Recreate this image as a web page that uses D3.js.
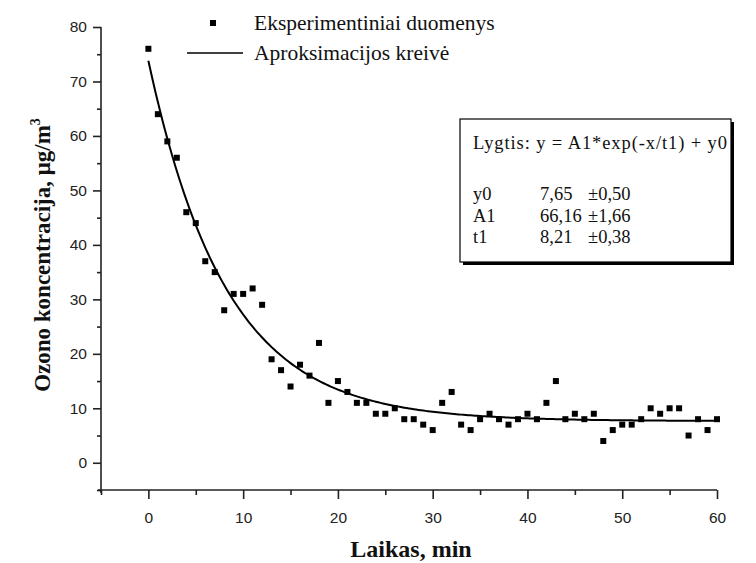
<!DOCTYPE html>
<html>
  <head>
    <meta charset="utf-8">
    <title>Ozono koncentracija</title>
    <style>
      body { margin: 0; background: #fff; }
    </style>
  </head>
  <body>
    <div id="chart"></div>
    <script src="https://cdn.jsdelivr.net/npm/d3@7"></script>
    <script>
    // measured points (minutes, concentration)
    var minutes = d3.range(0, 61);
    var ozone = [76, 64, 59, 56, 46, 44, 37, 35, 28, 31,
                 31, 32, 29, 19, 17, 14, 18, 16, 22, 11,
                 15, 13, 11, 11, 9, 9, 10, 8, 8, 7,
                 6, 11, 13, 7, 6, 8, 9, 8, 7, 8,
                 9, 8, 11, 15, 8, 9, 8, 9, 4, 6,
                 7, 7, 8, 10, 9, 10, 10, 5, 8, 6,
                 8];

    // fit parameters shown in the box
    var fitNames = ["y0", "A1", "t1"];
    var fitValues = [7.65, 66.16, 8.21];
    var fitText = ["7,65", "66,16", "8,21"];
    var fitErrors = ["±0,50", "±1,66", "±0,38"];

    var xTicks = [0, 10, 20, 30, 40, 50, 60];
    var yTicks = [0, 10, 20, 30, 40, 50, 60, 70, 80];

    var serif = '"Liberation Serif", "Times New Roman", serif';
    var sans = '"Liberation Sans", Arial, sans-serif';

    var width = 756, height = 563;
    var svg = d3.select("#chart").append("svg")
        .attr("width", width).attr("height", height);

    var x = d3.scaleLinear().domain([-5, 60]).range([101, 717]);
    var y = d3.scaleLinear().domain([-5, 80]).range([490, 27]);

    var axisColor = "#222";

    // y axis, major and minor ticks
    var yAxis = svg.append("g").attr("transform", "translate(101,0)")
        .call(d3.axisLeft(y).tickValues(yTicks).tickSize(8).tickSizeOuter(0).tickPadding(6));
    svg.append("g").attr("class", "minor").attr("transform", "translate(101,0)")
        .call(d3.axisLeft(y).tickValues(d3.range(-5, 80, 10)).tickSize(4).tickFormat("").tickSizeOuter(0));

    // x axis
    var xAxis = svg.append("g").attr("transform", "translate(0,490)")
        .call(d3.axisBottom(x).tickValues(xTicks).tickSize(9).tickSizeOuter(0).tickPadding(13));
    svg.append("g").attr("class", "minor").attr("transform", "translate(0,490)")
        .call(d3.axisBottom(x).tickValues(d3.range(-5, 60, 10)).tickSize(5).tickFormat("").tickSizeOuter(0));

    svg.selectAll(".minor .domain").remove();
    svg.selectAll(".domain, .tick line")
        .attr("stroke", axisColor).attr("stroke-width", 1.6);
    svg.selectAll(".tick text")
        .attr("fill", "#222")
        .style("font-family", sans)
        .style("font-size", "15.5px");
    yAxis.select(".domain").attr("d", "M0,27V493");
    xAxis.select(".domain").attr("d", "M98,0H717");

    // fit curve
    var curveX = d3.range(0, 60.01, 0.25);
    var line = d3.line()
        .x(function(d) { return x(d); })
        .y(function(d) { return y(fitValues[1] * Math.exp(-d / fitValues[2]) + fitValues[0]); });
    svg.append("path").datum(curveX)
        .attr("d", line)
        .attr("fill", "none")
        .attr("stroke", "#000")
        .attr("stroke-width", 2);

    // points
    var s = 6;
    svg.append("g").selectAll("rect").data(minutes).enter().append("rect")
        .attr("x", function(d) { return x(d) - s / 2; })
        .attr("y", function(d, i) { return y(ozone[i]) - s / 2; })
        .attr("width", s).attr("height", s)
        .attr("fill", "#000");

    function label(px, py, size, str) {
        return svg.append("text").attr("x", px).attr("y", py)
            .attr("fill", "#111")
            .style("font-family", serif)
            .style("font-size", size + "px")
            .text(str);
    }

    // legend
    svg.append("rect").attr("x", 210).attr("y", 20).attr("width", s).attr("height", s).attr("fill", "#000");
    label(254, 30, 21.5, "Eksperimentiniai duomenys");
    svg.append("line").attr("x1", 187).attr("x2", 243).attr("y1", 53).attr("y2", 53)
        .attr("stroke", "#000").attr("stroke-width", 1.5);
    label(254, 60, 21.5, "Aproksimacijos kreivė");

    // fit box with shadow
    svg.append("rect").attr("x", 463).attr("y", 122).attr("width", 271).attr("height", 143).attr("fill", "#000");
    svg.append("rect").attr("x", 460).attr("y", 119).attr("width", 271).attr("height", 143)
        .attr("fill", "#fff").attr("stroke", "#000").attr("stroke-width", 1.2);
    label(473, 149, 18.5, "Lygtis: y = A1*exp(-x/t1) + y0")
        .attr("textLength", 254).attr("lengthAdjust", "spacing");
    fitNames.forEach(function(n, i) {
        var by = 200 + i * 21.5;
        label(473, by, 18.5, n);
        label(540, by, 18.5, fitText[i]);
        label(588, by, 18.5, fitErrors[i]);
    });

    // axis titles
    label(411, 557, 24, "Laikas, min")
        .attr("text-anchor", "middle")
        .style("font-weight", "bold");
    var yt = svg.append("text")
        .attr("transform", "translate(50,255) rotate(-90)")
        .attr("text-anchor", "middle")
        .attr("fill", "#111")
        .style("font-family", serif)
        .style("font-size", "23px").style("font-weight", "bold");
    yt.append("tspan").text("Ozono koncentracija, μg/m");
    yt.append("tspan").attr("dy", -10).style("font-size", "14px").text("3");
    </script>
  </body>
</html>
